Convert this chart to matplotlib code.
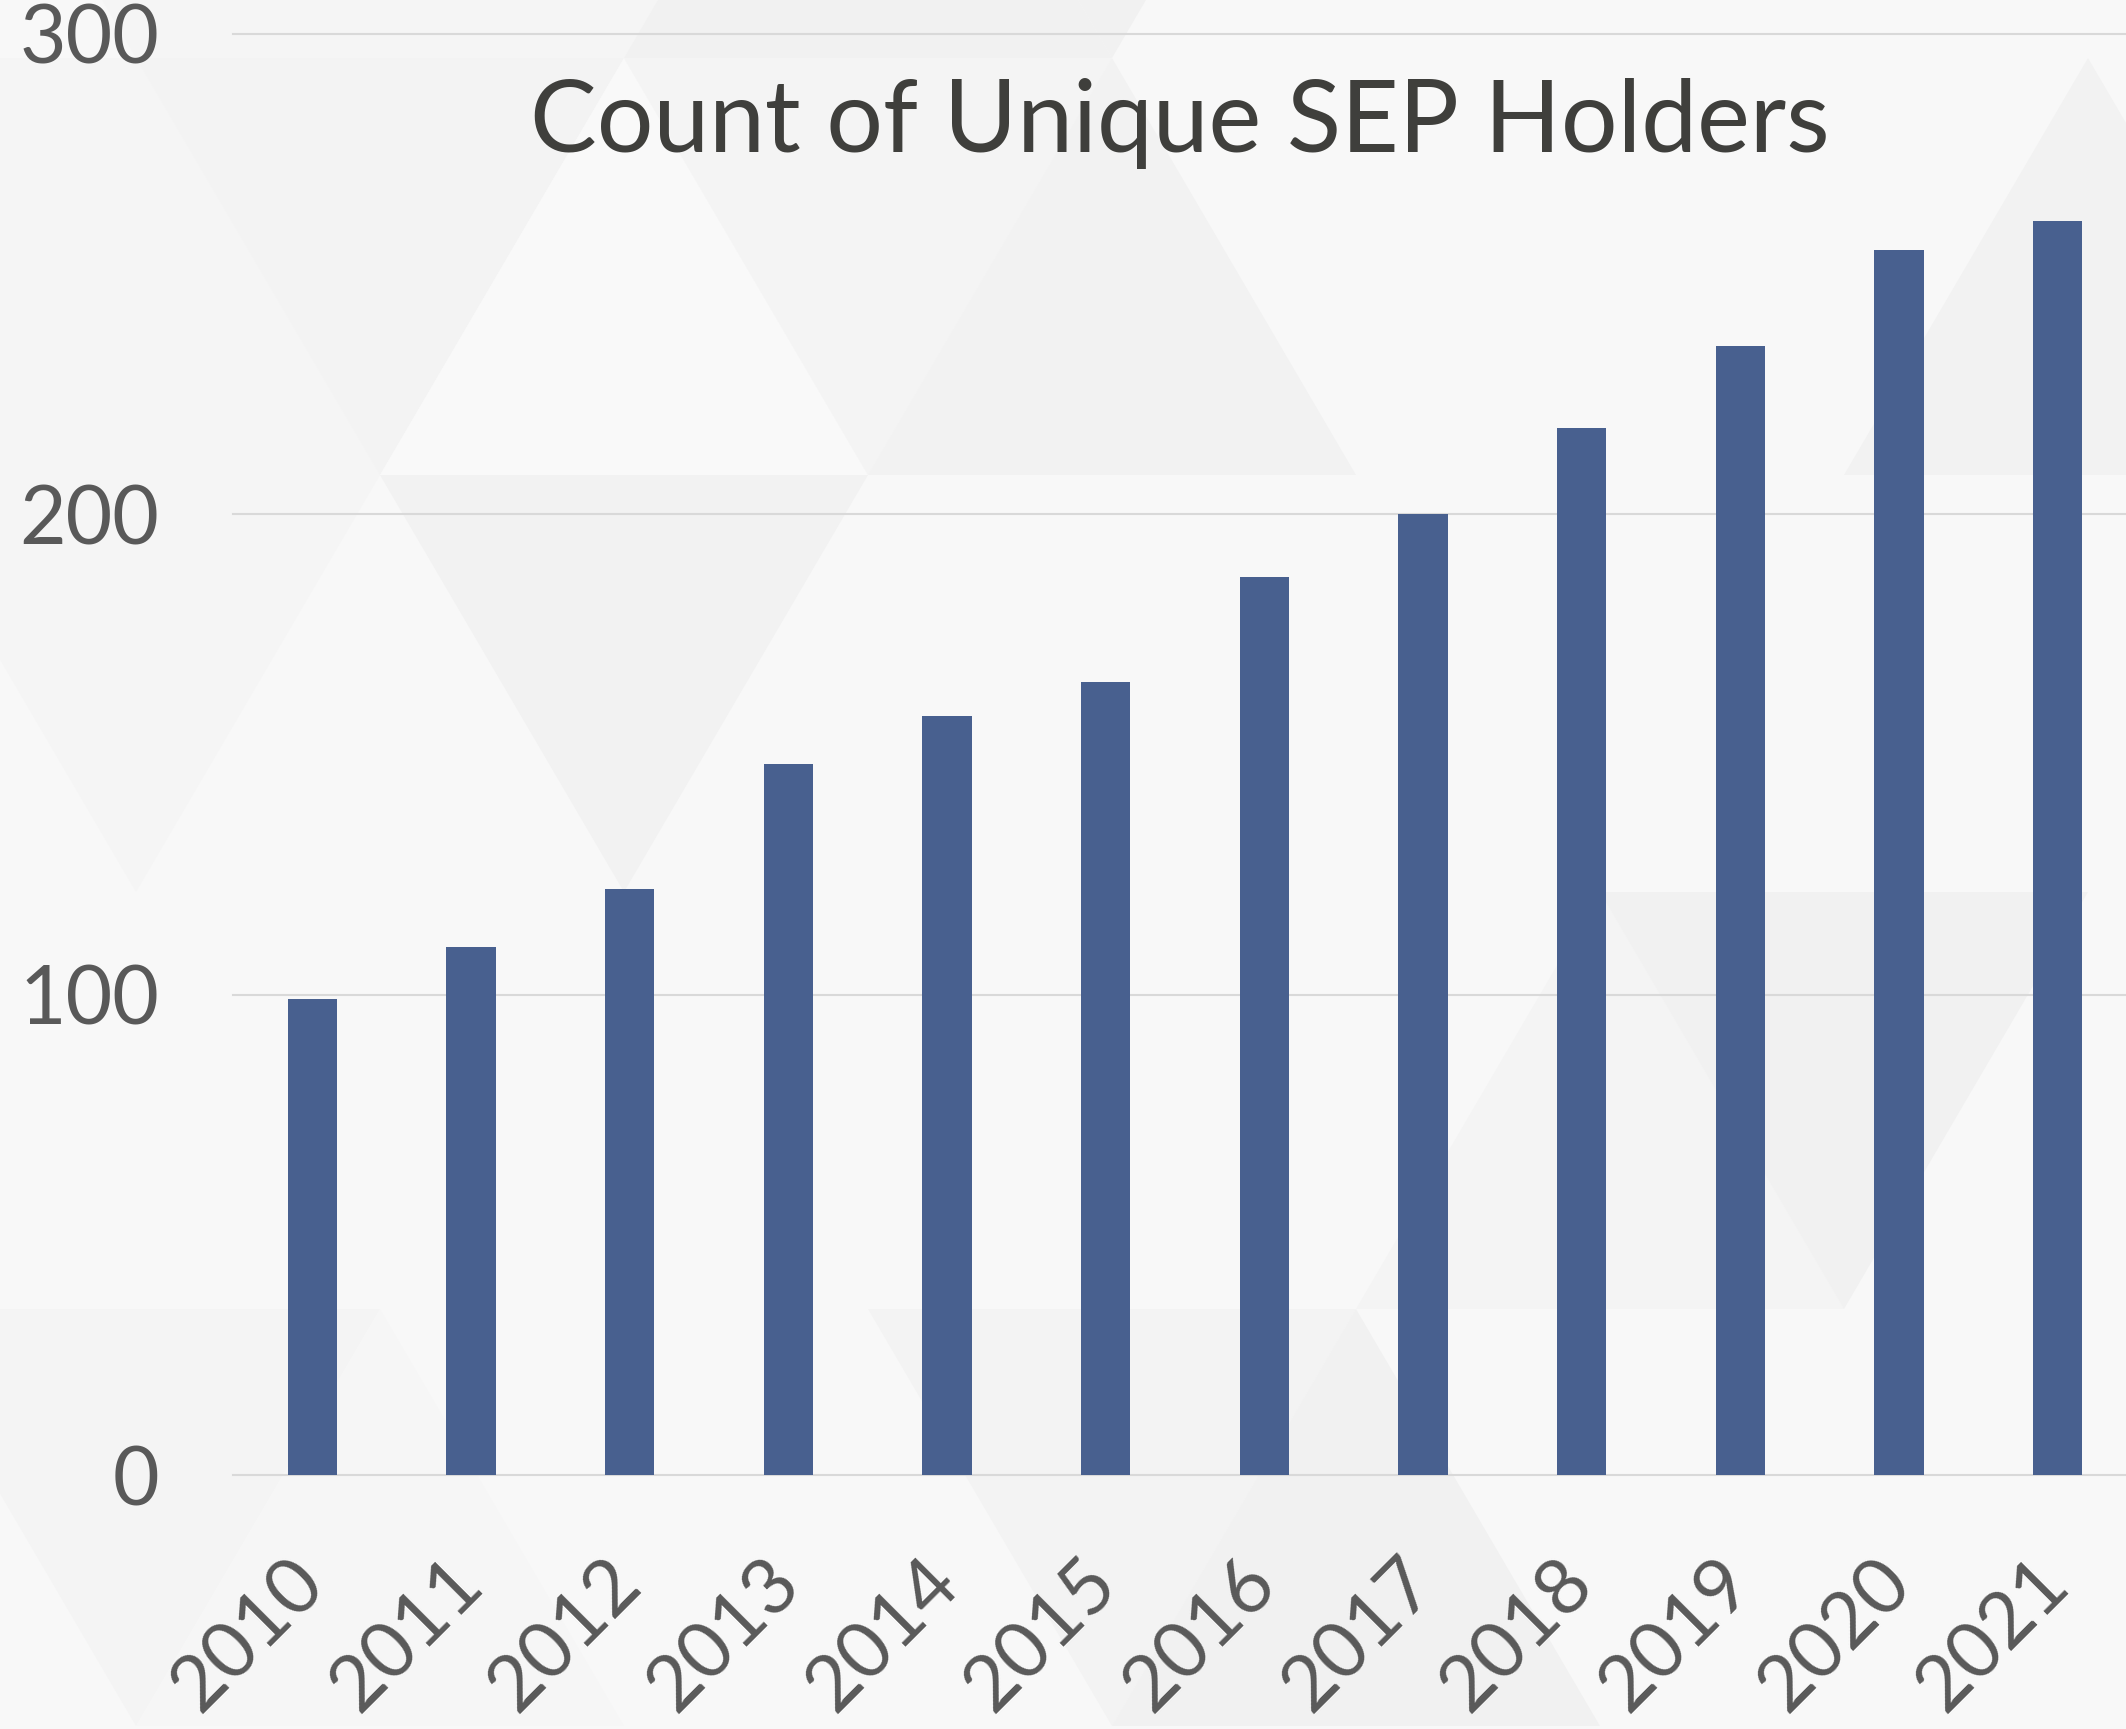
import matplotlib
matplotlib.use('Agg')
import matplotlib.pyplot as plt
from matplotlib.patches import Polygon

years = ['2010', '2011', '2012', '2013', '2014', '2015',
         '2016', '2017', '2018', '2019', '2020', '2021']
counts = [99, 110, 122, 148, 158, 165, 187, 200, 218, 235, 255, 261]
yticks = [0, 100, 200, 300]
title = 'Count of Unique SEP Holders'

plt.rcParams['font.family'] = ['Lato', 'DejaVu Sans']

W, H = 2126, 1729
BG = '#f8f8f8'
fig = plt.figure(figsize=(W / 100, H / 100), dpi=100, facecolor=BG)

# --- decorative faint triangle background (pixel lattice) ---
ROW_H, BASE = 417, 488
# (row, kind, k) -> grey level ; kind 'd' = base on top, 'u' = apex on top
shades = {
    (-1, 'd', -1): 0xf5, (-1, 'u', 0): 0xf5, (-1, 'd', 0): 0xf5,
    (-1, 'u', 1): 0xf1, (-1, 'd', 1): 0xf1,
    (0, 'd', -1): 0xf5, (0, 'u', 0): 0xf5, (0, 'd', 0): 0xf3,
    (0, 'u', 1): 0xf9, (0, 'd', 1): 0xf4, (0, 'u', 2): 0xf2,
    (0, 'u', 4): 0xf2,
    (1, 'd', -1): 0xf5, (1, 'd', 0): 0xf2,
    (2, 'u', 3): 0xf4, (2, 'd', 3): 0xf1,
    (3, 'd', -1): 0xf4, (3, 'u', 0): 0xf6, (3, 'd', 1): 0xf3,
    (3, 'u', 2): 0xf1,
}
for (r, kind, k), g in shades.items():
    yt = 58 + ROW_H * r
    yb = yt + ROW_H
    x0 = 136 + 244 * (r % 2) + BASE * k
    if kind == 'd':
        pts = [(x0, yt), (x0 + BASE, yt), (x0 + BASE / 2, yb)]
    else:
        pts = [(x0, yt), (x0 - BASE / 2, yb), (x0 + BASE / 2, yb)]
    pts = [(px / W, 1 - py / H) for px, py in pts]
    col = '#%02x%02x%02x' % (g, g, g)
    fig.patches.append(Polygon(pts, closed=True, transform=fig.transFigure,
                               facecolor=col, edgecolor='none', zorder=-10))

ax = fig.add_axes([233 / W, 1 - 1475 / H, 1 - 233 / W, (1475 - 34) / H])
ax.set_facecolor('none')

x = list(range(len(years)))
ax.bar(x, counts, width=0.31, color='#48608f', zorder=3)
ax.set_xlim(-0.5, 11.43)
ax.set_ylim(0, 300)
ax.set_yticks(yticks)
ax.set_yticklabels([str(v) for v in yticks])
ax.set_xticks(x)
ax.set_xticklabels(years, rotation=45, ha='right', va='center',
                   rotation_mode='anchor')
ax.grid(axis='y', color='#d9d9d9', linewidth=1.5, zorder=0)
ax.grid(axis='x', visible=False)
for gl in ax.get_ygridlines():
    gl.set_clip_on(False)
for s in ax.spines.values():
    s.set_visible(False)
ax.tick_params(axis='both', length=0, colors='#595959')
ax.tick_params(axis='y', pad=53, labelsize=58)
ax.tick_params(axis='x', pad=70, labelsize=56)

fig.text(1179.5 / W, 1 - 152 / H, title, ha='center', va='baseline',
         fontsize=72, color='#3f3f3c')

fig.savefig('out.png', dpi=100, facecolor=fig.get_facecolor())
